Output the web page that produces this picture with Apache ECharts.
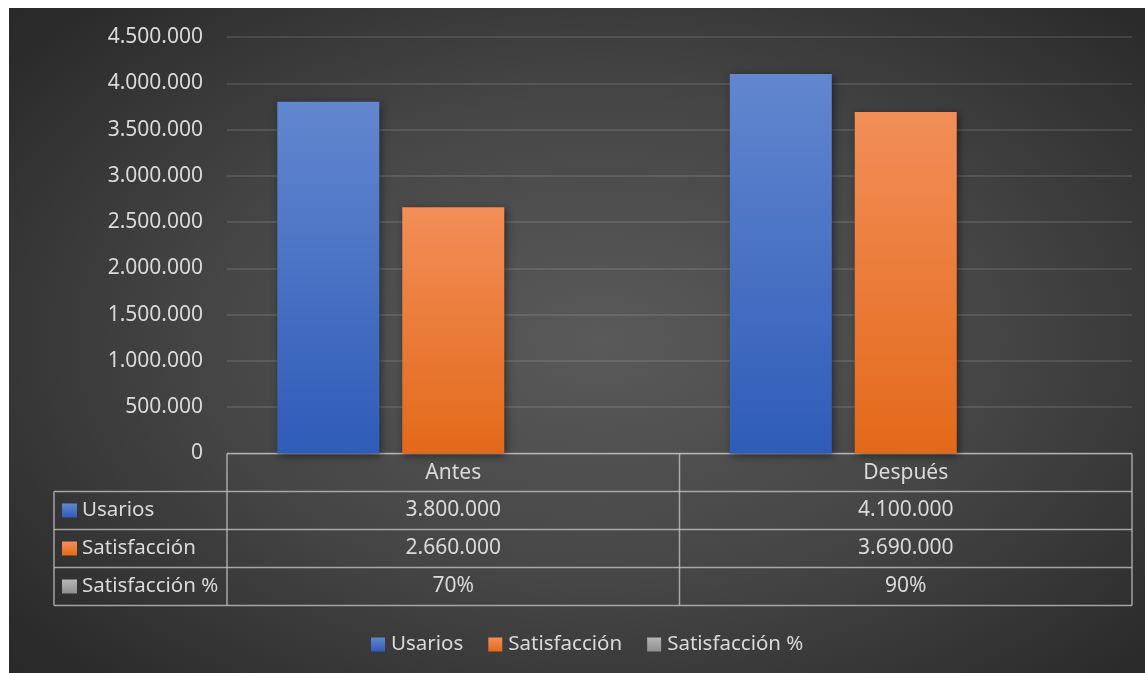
<!DOCTYPE html>
<html>
<head>
<meta charset="utf-8">
<script src="https://cdn.jsdelivr.net/npm/echarts@6/dist/echarts.min.js"></script>
<style>
  html, body { margin: 0; padding: 0; background: #ffffff; }
  #wrap { position: relative; width: 1147px; height: 673px; }
  #bg {
    position: absolute; left: 9px; top: 8px; width: 1136px; height: 665px;
    background: radial-gradient(ellipse 75% 80% at 52% 50%, #5a5a5a 0%, #464646 45%, #2c2c2c 85%, #262626 100%);
  }
  #chart { position: absolute; left: 0; top: 0; width: 1147px; height: 673px; }
</style>
</head>
<body>
<div id="wrap">
  <div id="bg"></div>
  <div id="chart"></div>
</div>
<script>
// Categories and series values
const categories = ['Antes', 'Después'];
const usarios = [3800000, 4100000];
const satisfaccion = [2660000, 3690000];
const satisfaccionPct = [0.7, 0.9];
const seriesNames = ['Usarios', 'Satisfacción', 'Satisfacción %'];

// Value axis range
const yMin = 0;
const yMax = 4500000;
const yStep = 500000;

// Layout of plot area and data table
const FONT = '"Noto Sans", "DejaVu Sans", sans-serif';
const FS = 21;
const FS_LABEL = 20.5;
const TEXT = '#dadada';
const PLOT_L = 227, PLOT_R = 1132, PLOT_T = 37, PLOT_B = 453.5;
const TABLE_L = 54, ROW_H = 38;
const LINE = 'rgba(200,200,200,0.75)';

function thousands(n) {
  return String(n).replace(/\B(?=(\d{3})+(?!\d))/g, '.');
}
function pct(v) { return Math.round(v * 100) + '%'; }

function grad(top, bottom) {
  return new echarts.graphic.LinearGradient(0, 0, 0, 1, [
    { offset: 0, color: top }, { offset: 1, color: bottom }
  ]);
}
const fills = [
  ['#6287cf', '#2f5cb8'],
  ['#f28e58', '#e3691a'],
  ['#b5b5b5', '#8f8f8f']
];

const chart = echarts.init(document.getElementById('chart'), null, { renderer: 'canvas' });

// Data table rows: [label, values, formatter]
const rows = [
  [seriesNames[0], usarios, thousands],
  [seriesNames[1], satisfaccion, thousands],
  [seriesNames[2], satisfaccionPct, pct]
];

const colW = (PLOT_R - PLOT_L) / categories.length;
const graphics = [];
const tableBottom = PLOT_B + ROW_H * (rows.length + 1);

// Horizontal table rules
graphics.push({ type: 'line', shape: { x1: PLOT_L, y1: PLOT_B, x2: PLOT_R, y2: PLOT_B }, style: { stroke: LINE, lineWidth: 1.5 } });
for (let r = 1; r <= rows.length + 1; r++) {
  const y = PLOT_B + ROW_H * r;
  graphics.push({ type: 'line', shape: { x1: TABLE_L, y1: y, x2: PLOT_R, y2: y }, style: { stroke: LINE, lineWidth: 1.5 } });
}
// Vertical table rules
graphics.push({ type: 'line', shape: { x1: TABLE_L, y1: PLOT_B + ROW_H, x2: TABLE_L, y2: tableBottom }, style: { stroke: LINE, lineWidth: 1.5 } });
for (let c = 0; c <= categories.length; c++) {
  const x = PLOT_L + colW * c;
  graphics.push({ type: 'line', shape: { x1: x, y1: PLOT_B, x2: x, y2: tableBottom }, style: { stroke: LINE, lineWidth: 1.5 } });
}
// Row keys, labels and cell values
rows.forEach((row, r) => {
  const cy = PLOT_B + ROW_H * (r + 1) + ROW_H / 2;
  graphics.push({
    type: 'rect', shape: { x: 62, y: cy - 7, width: 15, height: 14 },
    style: { fill: grad(fills[r][0], fills[r][1]) }
  });
  graphics.push({
    type: 'text', x: 82, y: cy,
    style: { text: row[0], fill: TEXT, font: FS_LABEL + 'px ' + FONT, textAlign: 'left', textVerticalAlign: 'middle' }
  });
  row[1].forEach((v, c) => {
    graphics.push({
      type: 'text', x: PLOT_L + colW * (c + 0.5), y: cy,
      style: { text: row[2](v), fill: TEXT, font: FS + 'px ' + FONT, textAlign: 'center', textVerticalAlign: 'middle' }
    });
  });
});

const barShadow = { shadowBlur: 8, shadowColor: 'rgba(0,0,0,0.45)', shadowOffsetX: 2, shadowOffsetY: 2 };

chart.setOption({
  backgroundColor: 'transparent',
  animation: false,
  textStyle: { fontFamily: FONT },
  grid: { left: PLOT_L, right: 1147 - PLOT_R, top: PLOT_T, bottom: 673 - PLOT_B, containLabel: false },
  legend: {
    data: seriesNames,
    top: 629,
    left: 366,
    itemWidth: 14,
    itemHeight: 14,
    itemGap: 25,
    icon: 'rect',
    textStyle: { color: TEXT, fontSize: FS_LABEL, fontFamily: FONT, padding: [0, 0, 0, 1] }
  },
  xAxis: {
    type: 'category',
    data: categories,
    axisLine: { show: false },
    axisTick: { show: false },
    axisLabel: { color: TEXT, fontSize: FS, fontFamily: FONT, margin: 9 }
  },
  yAxis: {
    type: 'value',
    min: yMin, max: yMax, interval: yStep,
    axisLine: { show: false },
    axisTick: { show: false },
    axisLabel: { color: TEXT, fontSize: FS, fontFamily: FONT, margin: 24, formatter: v => thousands(v) },
    splitLine: { lineStyle: { color: 'rgba(255,255,255,0.14)', width: 1.5 } }
  },
  series: [
    { name: seriesNames[0], type: 'bar', data: usarios, barWidth: 102, barGap: '22.5%',
      itemStyle: Object.assign({ color: grad(fills[0][0], fills[0][1]) }, barShadow) },
    { name: seriesNames[1], type: 'bar', data: satisfaccion, barWidth: 102, barGap: '22.5%',
      itemStyle: Object.assign({ color: grad(fills[1][0], fills[1][1]) }, barShadow) },
    { name: seriesNames[2], type: 'bar', data: satisfaccionPct, barWidth: 102, barGap: '22.5%',
      itemStyle: Object.assign({ color: grad(fills[2][0], fills[2][1]) }, barShadow) }
  ],
  graphic: graphics
});
</script>
</body>
</html>
